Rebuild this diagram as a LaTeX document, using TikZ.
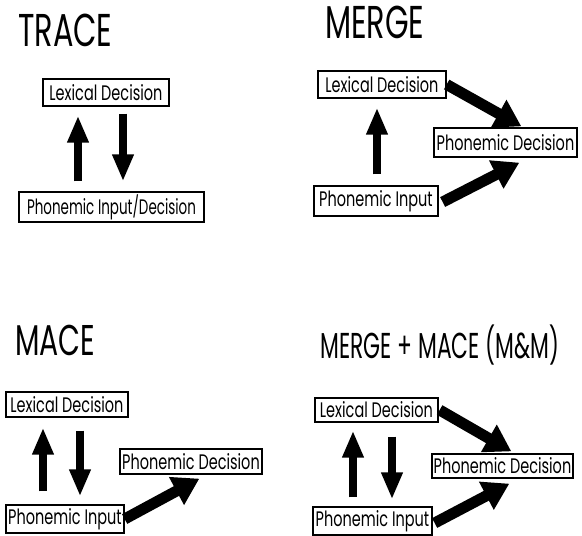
\documentclass[tikz,border=0pt]{standalone}
\usepackage{fontspec}
\usetikzlibrary{arrows.meta,calc}
\newfontfamily\condf[FakeStretch=0.69]{Poppins}
\newfontfamily\titf[FakeStretch=0.66]{Poppins}
\tikzset{
 lbl/.style={draw, line width=1.3pt, inner sep=0pt, anchor=center, font=\condf\fontsize{21}{21}\selectfont},
 ttl/.style={inner sep=0pt, anchor=west, font=\titf\fontsize{46}{46}\selectfont},
 varrow/.style={line width=7.5pt, -{Triangle[length=27pt,width=20pt]}},
 darrow/.style={line width=11pt, -{Triangle[length=26pt,width=30pt]}},
}
\begin{document}
\begin{tikzpicture}[x=1pt,y=-1pt]
\useasboundingbox (0,0) rectangle (582,536);
% TRACE
\node[ttl] (ttrace) at (18,30) {TRACE};
\node[lbl, minimum width=126pt, minimum height=27pt] (tld) at (106,92.5) {Lexical Decision};
\node[lbl, minimum width=185pt, minimum height=30pt] (tpi) at (111.5,207) {\scalebox{0.93}[1]{Phonemic Input/Decision}};
\draw[varrow, shorten <=10pt, shorten >=9pt] (tpi.north -| 78,0) -- (tld.south -| 78,0);
\draw[varrow, shorten <=7pt, shorten >=10pt] (tld.south -| 123,0) -- (tpi.north -| 123,0);
% MERGE
\node[ttl] (tmerge) at (325,22.5) {MERGE};
\node[lbl, minimum width=128pt, minimum height=27pt] (mld) at (382,84.5) {Lexical Decision};
\node[lbl, minimum width=143pt, minimum height=29pt] (mpd) at (505.5,142.5) {Phonemic Decision};
\node[lbl, minimum width=124pt, minimum height=30pt] (mpi) at (376,201) {Phonemic Input};
\draw[varrow, shorten <=11pt, shorten >=9pt] (mpi.north -| 377,0) -- (mld.south -| 377,0);
\draw[darrow] (mld.east) -- ($(mpd.north west)+(88,-1)$);
\draw[darrow] ($(mpi.east)+(4,1)$) -- ($(mpd.south west)+(86,5)$);
% MACE
\node[ttl, font=\titf\fontsize{43}{43}\selectfont] (tmace) at (15,340) {MACE};
\node[lbl, minimum width=122pt, minimum height=25pt] (ald) at (67,404.5) {Lexical Decision};
\node[lbl, minimum width=142pt, minimum height=25pt] (apd) at (191,461.5) {Phonemic Decision};
\node[lbl, minimum width=118pt, minimum height=28pt] (api) at (65,519) {Phonemic Input};
\draw[varrow, shorten <=13pt, shorten >=10pt] (api.north -| 43,0) -- (ald.south -| 43,0);
\draw[varrow, shorten <=13pt, shorten >=8pt] (ald.south -| 80,0) -- (api.north -| 80,0);
\draw[darrow] (api.east) -- ($(apd.south west)+(80,4)$);
% MERGE + MACE
\node[ttl, font=\titf\fontsize{36}{36}\selectfont] (tmm) at (320,345.5) {\scalebox{0.92}[1]{MERGE + MACE (M\&M)}};
\node[lbl, minimum width=123pt, minimum height=24pt] (bld) at (376.5,410) {Lexical Decision};
\node[lbl, minimum width=141pt, minimum height=24pt] (bpd) at (502.5,466) {Phonemic Decision};
\node[lbl, minimum width=119pt, minimum height=28pt] (bpi) at (372.5,521) {Phonemic Input};
\draw[varrow, shorten <=9pt, shorten >=8pt] (bpi.north -| 353,0) -- (bld.south -| 353,0);
\draw[varrow, shorten <=14pt, shorten >=7pt] (bld.south -| 392,0) -- (bpi.north -| 392,0);
\draw[darrow] ($(bld.east)+(1,0)$) -- ($(bpd.north west)+(80,-2)$);
\draw[darrow] ($(bpi.east)+(2,2)$) -- ($(bpd.south west)+(78,5)$);
\end{tikzpicture}
\end{document}
